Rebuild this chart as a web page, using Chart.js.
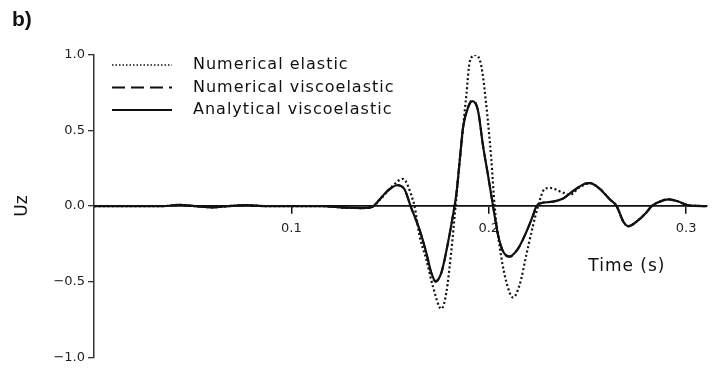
<!DOCTYPE html>
<html>
<head>
<meta charset="utf-8">
<script src="https://cdn.jsdelivr.net/npm/chart.js@4.4.1/dist/chart.umd.min.js"></script>
<style>
    html, body { margin: 0; padding: 0; background: #fff; }
    #wrap { position: relative; width: 717px; height: 368px; }
    #panel { position: absolute; left: 12px; top: 7px; font: bold 21px "Liberation Sans", Arial, sans-serif; color: #111; }
</style>
</head>
<body>
<div id="wrap">
    <canvas id="uzChart" width="717" height="368"></canvas>
    <div id="panel">b)</div>
</div>
<script>
// Time samples (s)
const viscoTime = [0, 0.02, 0.035, 0.043, 0.051, 0.06, 0.068, 0.077, 0.086, 0.1, 0.115, 0.127, 0.136,
    0.1405, 0.1445, 0.1475, 0.1506, 0.1536, 0.1574, 0.1604, 0.165, 0.1684, 0.1709, 0.1731, 0.176,
    0.1793, 0.1819, 0.1836, 0.1853, 0.187, 0.1895, 0.1917, 0.1946, 0.1971, 0.1997, 0.2022, 0.2047,
    0.2073, 0.2107, 0.2149, 0.2191, 0.2225, 0.2242, 0.2267, 0.2327, 0.2377, 0.2428, 0.2487, 0.2513,
    0.2563, 0.2614, 0.2648, 0.2683, 0.2707, 0.2758, 0.28, 0.2826, 0.2868, 0.291, 0.2961, 0.3012, 0.3106];
const analyticalUz = [0, 0, 0, 0.008, 0, -0.008, 0, 0.006, 0, 0, 0, -0.01, -0.013,
    -0.008, 0.04, 0.085, 0.12, 0.138, 0.11, 0, -0.157, -0.31, -0.44, -0.497, -0.44,
    -0.246, -0.06, 0.08, 0.3, 0.52, 0.65, 0.695, 0.63, 0.4, 0.2, 0, -0.19,
    -0.3, -0.333, -0.28, -0.17, -0.06, 0, 0.02, 0.03, 0.05, 0.1, 0.148, 0.152,
    0.114, 0.044, 0, -0.105, -0.132, -0.093, -0.04, 0, 0.03, 0.045, 0.03, 0.005, 0];
const numViscoUz = [0, 0, 0, 0.008, 0, -0.008, 0, 0.006, 0, 0, 0, -0.01, -0.013,
    -0.008, 0.04, 0.086, 0.121, 0.14, 0.11, 0, -0.158, -0.312, -0.443, -0.502, -0.443,
    -0.247, -0.06, 0.08, 0.3, 0.52, 0.655, 0.70, 0.633, 0.4, 0.2, 0, -0.19,
    -0.302, -0.336, -0.282, -0.17, -0.06, 0, 0.02, 0.03, 0.05, 0.1, 0.149, 0.153,
    0.114, 0.044, 0, -0.106, -0.134, -0.093, -0.04, 0, 0.03, 0.046, 0.03, 0.005, 0];

const elasticTime = [0, 0.02, 0.035, 0.043, 0.051, 0.06, 0.068, 0.077, 0.086, 0.1, 0.115, 0.127, 0.136,
    0.1405, 0.1447, 0.1515, 0.1565, 0.1616, 0.1624, 0.165, 0.1684, 0.1717, 0.176, 0.1785, 0.1811,
    0.1832, 0.1853, 0.187, 0.1887, 0.1904, 0.1933, 0.1962, 0.1985, 0.2013, 0.203, 0.2064, 0.2089,
    0.2123, 0.2157, 0.2191, 0.2225, 0.225, 0.2284, 0.231, 0.2369, 0.2411, 0.2462, 0.2513, 0.2563,
    0.2614, 0.2648, 0.2683, 0.2707, 0.2758, 0.28, 0.2826, 0.2868, 0.291, 0.2961, 0.3012, 0.3106];
const elasticUz = [0, 0, 0, 0.008, 0, -0.008, 0, 0.006, 0, 0, 0, -0.01, -0.013,
    -0.008, 0.04, 0.136, 0.18, 0.04, 0, -0.2, -0.355, -0.53, -0.68, -0.574, -0.29,
    0, 0.3, 0.52, 0.74, 0.956, 1.0, 0.93, 0.7, 0.31, 0, -0.34, -0.5,
    -0.605, -0.52, -0.32, -0.126, 0, 0.115, 0.12, 0.093, 0.075, 0.126, 0.152, 0.114,
    0.044, 0, -0.105, -0.132, -0.093, -0.04, 0, 0.03, 0.045, 0.03, 0.005, 0];

const seriesLabels = ['Numerical elastic', 'Numerical viscoelastic', 'Analytical viscoelastic'];
const xTicks = [0.1, 0.2, 0.3];
const yTicks = [-1, -0.5, 0, 0.5, 1];

const FONT = '"DejaVu Sans", "Liberation Sans", sans-serif';
const INK = '#111';

function toPoints(xs, ys) {
    return xs.map((x, i) => ({ x: x, y: ys[i] }));
}

function fmt(v) {
    const s = Math.abs(v).toFixed(1);
    return v < 0 ? '\u2212' + s : s;
}

// legend at the top left, plus the "Time (s)" axis caption
const annotations = {
    id: 'annotations',
    afterDraw(chart) {
        const ctx = chart.ctx;
        ctx.save();
        ctx.fillStyle = INK;
        ctx.textBaseline = 'middle';
        ctx.font = '16px ' + FONT;
        ctx.letterSpacing = '1px';
        chart.data.datasets.forEach((ds, i) => {
            const y = 65 + i * 22.5;
            ctx.beginPath();
            ctx.strokeStyle = ds.borderColor;
            ctx.lineWidth = ds.legendWidth;
            ctx.setLineDash(ds.legendDash);
            ctx.moveTo(112, y);
            ctx.lineTo(172, y);
            ctx.stroke();
            ctx.setLineDash([]);
            ctx.textAlign = 'left';
            ctx.fillText(ds.label, 193, y);
        });
        const xs = chart.scales.x, ys = chart.scales.y;
        ctx.font = '17px ' + FONT;
        ctx.textAlign = 'center';
        ctx.fillText('Time (s)', xs.getPixelForValue(0.27), ys.getPixelForValue(-0.4));
        ctx.restore();
    }
};

const ctx = document.getElementById('uzChart').getContext('2d');
new Chart(ctx, {
    type: 'line',
    data: {
        datasets: [
            {
                label: seriesLabels[0],
                data: toPoints(elasticTime, elasticUz),
                borderColor: INK,
                borderWidth: 2.2,
                borderDash: [2, 2.5],
                legendDash: [1.5, 2],
                legendWidth: 1.6,
                order: 3
            },
            {
                label: seriesLabels[1],
                data: toPoints(viscoTime, numViscoUz),
                borderColor: INK,
                borderWidth: 2,
                borderDash: [8, 5],
                legendDash: [13, 6],
                legendWidth: 2,
                order: 2
            },
            {
                label: seriesLabels[2],
                data: toPoints(viscoTime, analyticalUz),
                borderColor: INK,
                borderWidth: 2.2,
                borderDash: [],
                legendDash: [],
                legendWidth: 2.2,
                order: 1
            }
        ]
    },
    options: {
        responsive: false,
        animation: false,
        devicePixelRatio: 1,
        cubicInterpolationMode: 'monotone',
        elements: { point: { radius: 0 } },
        layout: { padding: { left: 0, right: 10, top: 55, bottom: 8 } },
        plugins: {
            legend: { display: false },
            tooltip: { enabled: false }
        },
        scales: {
            x: {
                type: 'linear',
                position: { y: 0 },
                min: 0,
                max: 0.3106,
                afterBuildTicks: (scale) => { scale.ticks = xTicks.map(v => ({ value: v })); },
                grid: { drawOnChartArea: false, drawTicks: true, tickLength: 7, color: INK, lineWidth: 1.5 },
                border: { display: true, color: INK, width: 1.8 },
                ticks: {
                    padding: 8,
                    color: '#222',
                    font: { family: FONT, size: 13 },
                    maxRotation: 0,
                    callback: (v) => v.toFixed(1)
                }
            },
            y: {
                type: 'linear',
                position: 'left',
                min: -1,
                max: 1,
                afterBuildTicks: (scale) => { scale.ticks = yTicks.map(v => ({ value: v })); },
                afterFit: (scale) => { scale.width = 94; },
                grid: { drawOnChartArea: false, drawTicks: true, tickLength: 6, color: '#333', lineWidth: 1.3 },
                border: { display: true, color: '#333', width: 1.5 },
                ticks: {
                    padding: 3,
                    color: '#222',
                    font: { family: FONT, size: 13 },
                    callback: (v) => fmt(v)
                },
                title: {
                    display: true,
                    text: 'Uz',
                    color: INK,
                    font: { family: FONT, size: 17 },
                    padding: { top: 12, bottom: 0 }
                }
            }
        }
    },
    plugins: [annotations]
});
</script>
</body>
</html>
